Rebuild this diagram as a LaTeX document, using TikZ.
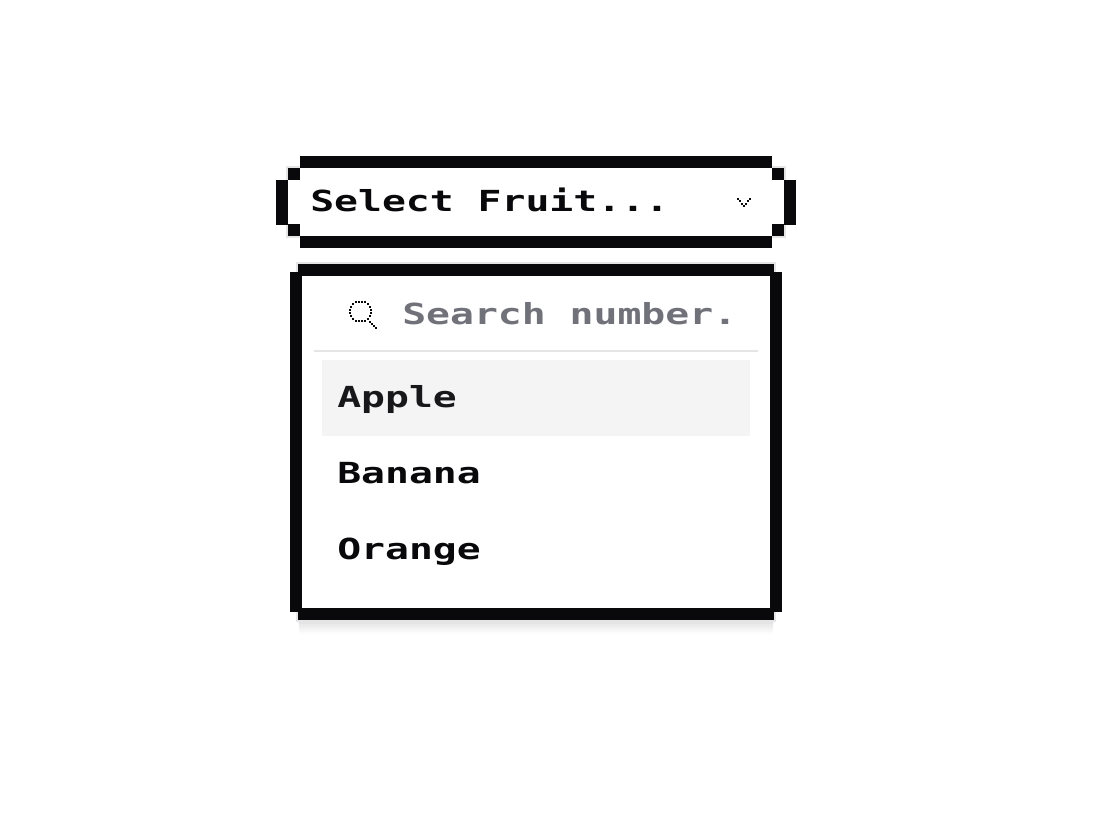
\documentclass[tikz,border=0pt]{standalone}
\usepackage{fontspec}
\newfontfamily\pixfont[FakeStretch=1.37]{DejaVu Sans Mono Bold}
\definecolor{ink}{HTML}{09090B}
\definecolor{mutedtxt}{HTML}{71717A}
\definecolor{hairline}{HTML}{E5E5E5}
\definecolor{hover}{HTML}{F4F4F5}
\definecolor{hovertxt}{HTML}{18181B}
\tikzset{
  pixbar/.style={fill=ink,draw=none},
  uitext/.style={font=\pixfont\fontsize{21.75pt}{24pt}\selectfont,anchor=base west,inner sep=0pt,text=ink},
}
\newcommand{\px}[2]{\fill[ink] (#1,#2) rectangle ++(2,2);}
\begin{document}
\begin{tikzpicture}[x=0.75pt,y=-0.75pt]
\useasboundingbox (0,0) rectangle (1094,816);
\fill[white] (0,0) rectangle (1094,816);
% panel soft shadow
\foreach \d/\o in {14/.012,12/.014,10/.016,8/.018,6/.02,4/.022,2/.024}{
  \fill[black,opacity=\o] (298+\d*0.1,272) rectangle (774-\d*0.1,620+\d);
}
% hairline shadows
\fill[hairline] (286,166) rectangle (786,238);
\fill[white] (288,168) rectangle (784,236);
\fill[hairline] (296,262) rectangle (776,622);
\fill[white] (298,264) rectangle (774,620);
% trigger outline
\fill[white] (288,180) rectangle (784,224);
\fill[pixbar] (300,156) rectangle (772,168);
\fill[pixbar] (300,236) rectangle (772,248);
\fill[pixbar] (276,180) rectangle (288,225);
\fill[pixbar] (784,180) rectangle (796,225);
\fill[pixbar] (288,168) rectangle (300,180);
\fill[pixbar] (772,168) rectangle (784,180);
\fill[pixbar] (288,224) rectangle (300,236);
\fill[pixbar] (772,224) rectangle (784,236);
% panel outline
\fill[white] (302,276) rectangle (770,608);
\fill[pixbar] (298,264) rectangle (774,276);
\fill[pixbar] (298,608) rectangle (774,620);
\fill[pixbar] (290,272) rectangle (302,612);
\fill[pixbar] (770,272) rectangle (782,612);
% separator and highlighted row
\fill[hairline] (314,350) rectangle (758,352);
\fill[hover] (322,360) rectangle (750,436);
% texts
\node[uitext] (trigger) at (310,212) {Select Fruit...};
\node[uitext,text=mutedtxt] (search) at (402,324) {Search number.};
\node[uitext,text=hovertxt] (apple) at (337,407) {Apple};
\node[uitext] (banana) at (337,483) {Banana};
\node[uitext] (orange) at (337,559) {Orange};
% chevron
\foreach \a/\b in {737/198,739/200,741/203,743/205,745/203,747/200,749/198}{\px{\a}{\b}}
% magnifier
\foreach \a/\b in {355/301,358/301,361/301,364/301,
  352/303,367/303,350/306,369/306,349/309,370/309,349/312,370/312,350/315,369/315,
  352/318,367/318,355/320,358/320,361/320,364/320,
  369/321,371/323,373/325,375/327}{\px{\a}{\b}}
\end{tikzpicture}
\end{document}
